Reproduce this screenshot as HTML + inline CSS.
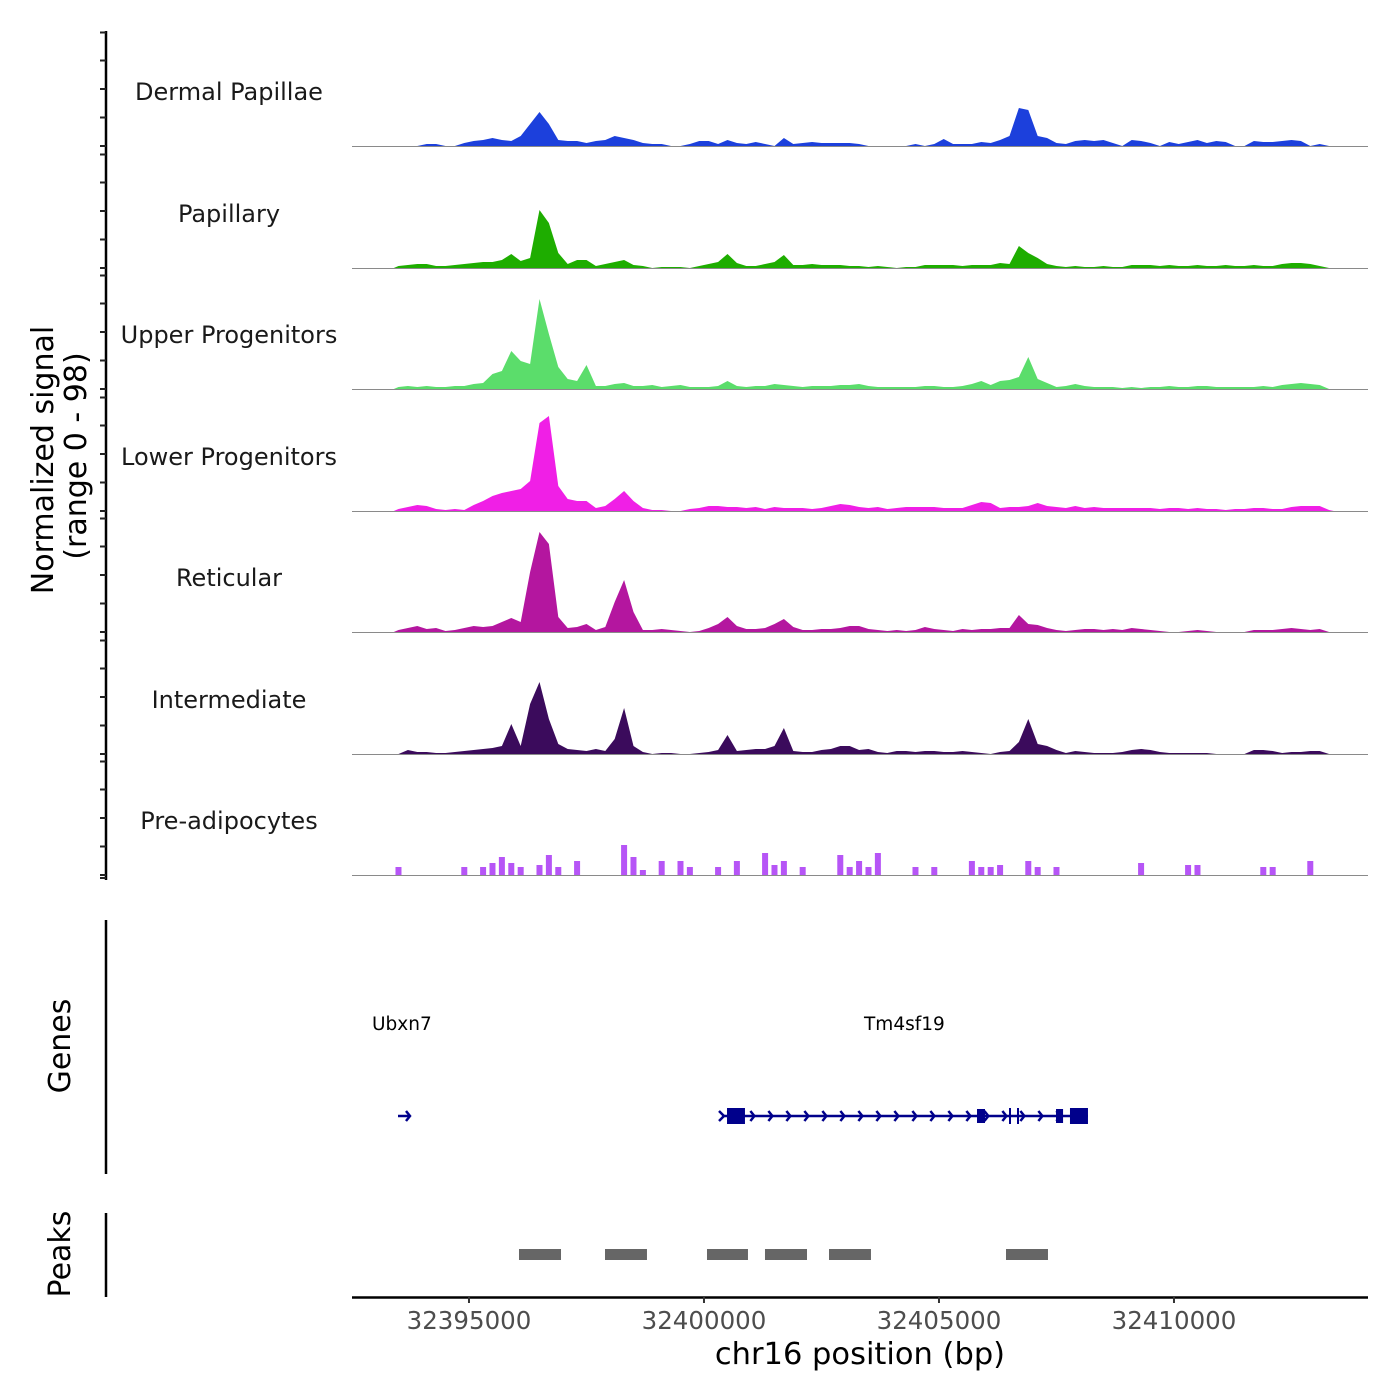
<!DOCTYPE html>
<html><head><meta charset="utf-8">
<style>
html,body{margin:0;padding:0;background:#fff;}
svg{display:block;font-family:"DejaVu Sans","Liberation Sans",sans-serif;}
</style></head>
<body>
<svg id="chart" width="1400" height="1400" viewBox="0 0 1400 1400" xmlns="http://www.w3.org/2000/svg">
<g id="tracks"></g>
<g id="leftaxis"></g>
<text transform="translate(53,460) rotate(-90)" text-anchor="middle" font-size="30" fill="#000">Normalized signal</text>
<text transform="translate(86,456) rotate(-90)" text-anchor="middle" font-size="30" fill="#000">(range 0 - 98)</text>
<g id="genes"></g>
<g id="peaks"></g>
<g id="xaxis"></g>
</svg>
<script>
const trackNames = ["Dermal Papillae","Papillary","Upper Progenitors","Lower Progenitors","Reticular","Intermediate","Pre-adipocytes"];
const trackColors = ["#1c40dc","#1ead00","#5bdd6b","#f01fe6","#b4169f","#3b0b5c","#b655f6"];
const binStart = 32393400;
const binSize = 200;
const sigDermalPapillae = [0,0,0,2,2,0,0,3,5,6,8,6,5,10,22,34,22,6,5,5,3,5,6,10,8,6,3,2,2,0,0,2,5,5,2,6,3,2,4,2,0,8,2,3,4,3,3,3,3,2,0,0,0,0,0,2,0,2,7,2,2,2,4,3,6,10,38,36,10,8,3,2,5,6,5,6,3,0,6,5,3,0,4,2,4,6,3,5,4,0,0,5,4,4,5,6,5,0,2,0];
const sigPapillary = [2,3,4,4,2,2,3,4,5,6,6,8,14,7,10,58,45,15,4,8,8,2,4,6,8,3,2,0,1,1,1,0,2,4,6,14,5,2,2,4,6,13,3,3,4,3,3,3,2,2,1,2,1,0,1,1,3,3,3,3,2,3,3,3,5,4,22,15,10,4,2,1,2,1,1,2,1,1,3,3,3,2,3,2,2,3,2,2,3,2,2,3,2,2,4,5,5,4,2,0];
const sigUpperProgenitors = [2,3,2,3,2,2,3,3,5,6,15,18,38,28,25,90,55,22,10,8,24,3,3,5,6,3,3,4,2,3,4,2,2,2,3,8,3,2,3,3,5,4,3,2,3,3,3,4,4,5,3,2,2,2,2,2,3,3,2,2,3,5,8,4,8,9,12,32,10,6,2,3,5,3,2,2,2,1,2,1,2,2,3,2,2,3,3,2,2,2,2,2,3,2,4,5,6,5,4,0];
const sigLowerProgenitors = [2,4,6,5,2,1,2,1,6,10,15,18,20,22,30,88,95,25,12,10,10,3,5,12,20,10,3,1,1,0,0,2,3,5,5,4,4,3,4,2,4,3,3,3,2,3,5,7,6,4,3,4,2,3,4,4,4,4,3,3,3,6,9,8,3,4,4,5,8,5,4,3,5,3,4,3,3,3,3,3,3,2,3,3,2,3,2,2,1,2,2,3,3,2,2,4,5,5,5,1];
const sigReticular = [2,4,6,3,4,1,2,4,6,5,6,10,14,10,60,100,88,15,4,5,8,2,5,30,52,20,2,2,3,2,1,0,1,4,8,15,6,3,3,4,8,13,5,2,2,3,3,4,6,6,3,2,1,2,1,2,5,3,2,1,3,2,3,3,4,4,17,8,7,4,2,1,2,3,3,2,3,2,4,3,2,1,0,0,1,2,1,0,0,0,0,2,2,2,3,4,3,2,3,0];
const sigIntermediate = [0,4,2,2,1,1,2,3,4,5,6,8,30,8,50,72,35,10,5,4,3,5,3,15,46,8,2,0,1,1,0,0,1,2,4,19,3,4,5,5,8,26,3,2,2,4,5,8,8,4,5,2,1,3,3,2,3,3,2,2,3,2,1,0,2,3,12,35,10,8,4,1,3,2,1,1,1,2,4,5,4,2,1,1,1,1,1,0,0,0,0,4,4,3,1,2,2,3,3,0];
const sigPreAdipocytes = [8,0,0,0,0,0,0,8,0,8,12,18,12,8,0,10,20,8,0,14,0,0,0,0,30,18,5,0,14,0,14,8,0,0,8,0,14,0,0,22,10,14,0,8,0,0,0,20,8,14,8,22,0,0,0,8,0,8,0,0,0,14,8,8,10,0,0,14,8,0,8,0,0,0,0,0,0,0,0,12,0,0,0,0,10,10,0,0,0,0,0,0,8,8,0,0,0,14,0,0];
const trackSignals = [sigDermalPapillae,sigPapillary,sigUpperProgenitors,sigLowerProgenitors,sigReticular,sigIntermediate,sigPreAdipocytes];
const xTicks = [32395000,32400000,32405000,32410000];
const peakStarts = [32396064,32397894,32400064,32401298,32402660,32406426];
const peakEnds = [32396958,32398787,32400936,32402192,32403553,32407319];
const geneNames = ["Ubxn7","Tm4sf19"];
const geneStarts = [32393490,32400383];
const geneEnds = [32393745,32408170];
const exonStarts = [32400490,32405809,32407490,32407787];
const exonEnds = [32400872,32405979,32407640,32408170];

const NS="http://www.w3.org/2000/svg";
const X0=352, X1=1368, BP0=32392511, PXPERBP=0.047;
function xScale(bp){return X0+(bp-BP0)*PXPERBP;}
const bases=[146,268,389,511,632,754,875];
function yScale(v,t){return bases[t]-v*1.0;}
function mk(tag,attrs,parent){const e=document.createElementNS(NS,tag);for(const k in attrs)e.setAttribute(k,attrs[k]);parent.appendChild(e);return e;}

const tg=document.getElementById('tracks');
trackSignals.forEach((sig,t)=>{
  const g=mk('g',{},tg);
  
  
  if(t===6){
    sig.forEach((v,i)=>{
      if(v<=0)return;
      const c=xScale(binStart+binSize*(i+0.5));
      const r=mk('rect',{x:c-3,y:yScale(v,t),width:6,height:bases[t]-yScale(v,t),fill:trackColors[t]},g);
      
      
    });
  } else {
    let d='M'+xScale(binStart)+','+bases[t];
    sig.forEach((v,i)=>{d+=' L'+xScale(binStart+binSize*(i+0.5)).toFixed(1)+','+yScale(v,t).toFixed(1);});
    d+=' L'+xScale(binStart+binSize*sig.length)+','+bases[t]+' Z';
    const p=mk('path',{d:d,fill:trackColors[t]},g);
    
    
  }
  const bl=mk('line',{x1:X0,x2:X1,y1:bases[t]+0.5,y2:bases[t]+0.5,stroke:'#8a8a8a','stroke-width':1},g);
  
  
  const lb=mk('text',{x:229,y:bases[t]-46,'text-anchor':'middle','font-size':24,fill:'#1a1a1a'},g);
  lb.textContent=trackNames[t];
  
  
});

const la=document.getElementById('leftaxis');
mk('line',{x1:106,x2:106,y1:31,y2:880,stroke:'#000','stroke-width':2.5},la);
bases.forEach(b=>{
  [0,28.5,57,85.5,113.5].forEach(o=>{
    const tk=mk('line',{x1:100,x2:106,y1:b-o,y2:b-o,stroke:'#222','stroke-width':2},la);
    
    
  });
});
mk('line',{x1:100,x2:106,y1:878,y2:878,stroke:'#222','stroke-width':2},la);

const gg=document.getElementById('genes');
mk('line',{x1:106,x2:106,y1:920,y2:1174,stroke:'#000','stroke-width':2.5},gg);
const gt=mk('text',{transform:'translate(70,1046) rotate(-90)','text-anchor':'middle','font-size':30,fill:'#000'},gg);
gt.textContent='Genes';
const labelX=[372,864];
geneNames.forEach((n,i)=>{
  const t=mk('text',{x:labelX[i],y:1030,'font-size':18.5,fill:'#000'},gg);
  t.textContent=n;
  
  
  const a=xScale(geneStarts[i]),b=xScale(geneEnds[i]);
  const ln=mk('line',{x1:a,x2:b,y1:1116,y2:1116,stroke:'#00008b','stroke-width':2.5},gg);
  
  
  const step=18;
  for(let x=(i===0?b-2:a+step*1.8);x<b-4;x+=step){
    mk('polyline',{points:(x-4)+',1111 '+x+',1116 '+(x-4)+',1121',fill:'none',stroke:'#00008b','stroke-width':2.5},gg);
  }
  if(i===0)mk('polyline',{points:(b-4)+',1111 '+b+',1116 '+(b-4)+',1121',fill:'none',stroke:'#00008b','stroke-width':2.5},gg);
});
mk('polyline',{points:'719,1111 724,1116 719,1121',fill:'none',stroke:'#00008b','stroke-width':2.5},gg);
exonStarts.forEach((s,i)=>{
  const a=xScale(s),b=xScale(exonEnds[i]);
  const h=(b-a>12)?16:14;
  const r=mk('rect',{x:a,y:1116-h/2,width:b-a,height:h,fill:'#00008b'},gg);
  
  
});
mk('line',{x1:1010,x2:1010,y1:1108,y2:1124,stroke:'#00008b','stroke-width':2},gg);
mk('line',{x1:1018,x2:1018,y1:1108,y2:1124,stroke:'#00008b','stroke-width':2},gg);

const pg=document.getElementById('peaks');
mk('line',{x1:106,x2:106,y1:1213,y2:1297,stroke:'#000','stroke-width':2.5},pg);
const pt=mk('text',{transform:'translate(70,1254) rotate(-90)','text-anchor':'middle','font-size':30,fill:'#000'},pg);
pt.textContent='Peaks';
peakStarts.forEach((s,i)=>{
  const a=xScale(s),b=xScale(peakEnds[i]);
  const r=mk('rect',{x:a,y:1249,width:b-a,height:11,fill:'#666'},pg);
  
  
});

const xa=document.getElementById('xaxis');
mk('line',{x1:352,x2:1368,y1:1297.5,y2:1297.5,stroke:'#000','stroke-width':2.5},xa);
xTicks.forEach(v=>{
  const x=xScale(v);
  mk('line',{x1:x,x2:x,y1:1297,y2:1303,stroke:'#333','stroke-width':2},xa);
  const t=mk('text',{x:x,y:1329,'text-anchor':'middle','font-size':24.5,fill:'#4d4d4d'},xa);
  t.textContent=v;
  
  
});
const xt=mk('text',{x:860,y:1364,'text-anchor':'middle','font-size':30.5,fill:'#000'},xa);
xt.textContent='chr16 position (bp)';


</script>
</body></html>
